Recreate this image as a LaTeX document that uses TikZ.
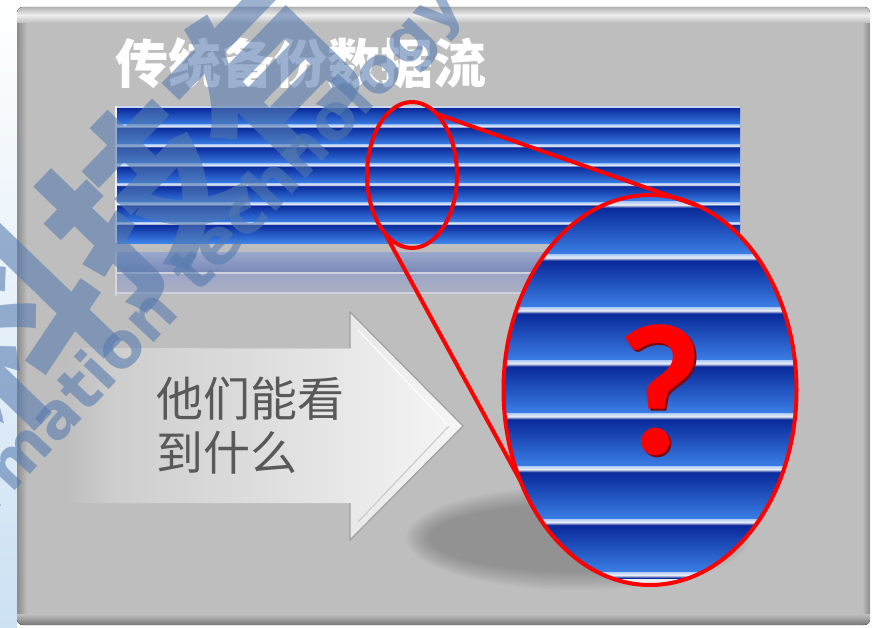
\documentclass[tikz,border=0pt]{standalone}
\usepackage{fontspec}
\newfontfamily\cjk{Noto Sans CJK SC}
\newfontfamily\qfont{Carlito}
\newfontfamily\wmfont{DejaVu Sans}
\usetikzlibrary{shapes.geometric}

\definecolor{panel}{RGB}{190,190,190}
\definecolor{paneldark}{RGB}{140,140,140}
\definecolor{panelbot}{RGB}{120,120,120}
\definecolor{paneltop}{RGB}{178,178,178}
\definecolor{panellight}{RGB}{238,238,238}
\definecolor{pagestrip}{RGB}{204,225,243}
\definecolor{navy}{RGB}{6,36,150}
\definecolor{lblue}{RGB}{62,132,234}
\definecolor{wline}{RGB}{236,238,246}
\definecolor{wmblue}{RGB}{85,122,174}
\definecolor{txtgray}{RGB}{89,89,89}
\definecolor{qdark}{RGB}{130,0,0}
\definecolor{ag1}{RGB}{206,206,206}
\definecolor{ag2}{RGB}{222,222,222}
\definecolor{ag3}{RGB}{246,246,246}
\definecolor{aedge}{RGB}{160,160,160}
\definecolor{aedge2}{RGB}{200,200,200}
\definecolor{aedge3}{RGB}{208,208,208}
\definecolor{refA}{RGB}{152,166,202}
\definecolor{refB}{RGB}{122,138,184}
\definecolor{refC}{RGB}{156,166,198}
\definecolor{refD}{RGB}{170,175,193}
\definecolor{refL}{RGB}{205,208,220}
\definecolor{refE}{RGB}{214,216,222}

\pgfdeclarehorizontalshading{arrowsh}{100bp}{color(0bp)=(panel); color(25bp)=(panel); color(31bp)=(ag1); color(50bp)=(ag2); color(75bp)=(ag3); color(100bp)=(ag3)}

\tikzset{
  smallband/.style={top color=navy, bottom color=lblue},
  whiteline/.style={top color=lblue!40!white, bottom color=navy, middle color=wline},
  redline/.style={draw=red, line width=4pt},
  lens/.style={ellipse, draw=red, line width=4pt, inner sep=0pt, outer sep=0pt},
  titletext/.style={inner sep=0pt, text=white, font=\cjk\bfseries\fontsize{53}{60}\selectfont},
  asktext/.style={inner sep=0pt, align=left, text=txtgray, font=\cjk\fontsize{47}{54}\selectfont},
  qm/.style={inner sep=0pt, anchor=base, font=\qfont\bfseries\fontsize{188}{188}\selectfont},
  wmcn/.style={inner sep=0pt, text=wmblue, opacity=0.58, font=\cjk\bfseries\fontsize{180}{180}\selectfont},
  wmen/.style={inner sep=0pt, text=wmblue, opacity=0.58, font=\wmfont\bfseries\fontsize{63}{63}\selectfont}
}

\begin{document}
\begin{tikzpicture}[x=1pt,y=-1pt]
\useasboundingbox (0,0) rectangle (872,628);
% page background
\fill[white] (0,0) rectangle (872,628);
\fill[top color=white, bottom color=pagestrip] (0,0) rectangle (17,628);

% panel with bevel
\fill[panel, rounded corners=6pt] (17,7) rectangle (870,625);
\begin{scope}
  \clip[rounded corners=6pt] (17,7) rectangle (870,625);
  \fill[left color=paneldark, right color=panel] (17,7) rectangle (27,625);
  \fill[left color=panel, right color=paneldark] (862,7) rectangle (870,625);
  \fill[top color=panel, bottom color=panelbot] (17,614) rectangle (870,625);
  \fill[top color=paneltop, bottom color=panel, middle color=panellight] (17,7) rectangle (870,23);
\end{scope}

% title
\node[titletext] (title) at (301,63) {传统备份数据流};

% striped data block
\foreach \i in {0,...,6} {
  \fill[smallband] ({117},{107+19.43*\i}) rectangle ({740},{107+19.43*(\i+1)});
}
\foreach \i in {1,...,6} {
  \fill[whiteline] ({117},{107+19.43*\i-1.5}) rectangle ({740},{107+19.43*\i+1.5});
}
\fill[wline!80!lblue] (117,106.5) rectangle (740,108.5);
\fill[wline] (114.5,106.5) rectangle (117,243.5);

% reflection
\fill[top color=refA, bottom color=refB] (117,253) rectangle (740,272);
\fill[refL] (117,272) rectangle (740,274);
\fill[top color=refC, bottom color=refD] (117,274) rectangle (740,292);
\fill[refL] (117,292) rectangle (740,293.5);
\fill[refE] (114.5,252) rectangle (117,296);

% arrow
\path[shading=arrowsh] (68,348) -- (350,348) -- (350,312) -- (463,426) -- (350,540) -- (350,503) -- (68,503) -- cycle;
\draw[aedge, line width=1.2pt, line join=miter]
  (350,348) -- (350,312) -- (463,426) -- (350,540) -- (350,503);
\draw[white, line width=1pt] (358,330) -- (449,426);
\draw[aedge2, line width=1pt] (449,426) -- (358,522);
\draw[aedge3, line width=0.8pt] (200,348) -- (350,348);
\node[asktext, anchor=west] (ask) at (156,425.5) {他们能看\\到什么};

% soft shadow of the lens
\foreach \k in {0,...,9} {
  \fill[black, opacity=0.023] (578,538) ellipse [x radius={172-2.5*\k}, y radius={52-2*\k}];
}

% magnified stripes
\begin{scope}
  \clip (650,390) ellipse [x radius=146.5, y radius=195];
  \fill[lblue] (500,190) rectangle (800,590);
  \foreach \i in {-1,...,6} {
    \fill[smallband] ({500},{204.8+52.9*\i}) rectangle ({800},{204.8+52.9*(\i+1)});
  }
  \fill[wline] (500,576) rectangle (800,590);
  \foreach \i in {0,...,7} {
    \fill[whiteline] ({500},{204.8+52.9*\i-3}) rectangle ({800},{204.8+52.9*\i+3});
  }
\end{scope}

% lenses and connectors
\node[lens, minimum width=293pt, minimum height=390pt] (big) at (650,390) {};
\node[lens, minimum width=90pt, minimum height=146pt] (small) at (412,175) {};
\draw[redline] (small.68) -- (big.75);
\draw[redline] (small.245) -- (big.215.6);

% question mark
\node[qm, text=qdark] (qshade) at (662,456) {?};
\node[qm, text=red] (qmark) at (660.5,454) {?};

% watermark
\node[wmcn, rotate=46] (wmcn) at (140,200) {科技有};
\node[wmen, rotate=47, anchor=base west] (wmen) at (197,296) {\llap{information\hspace{24pt}}technology};
\end{tikzpicture}
\end{document}
